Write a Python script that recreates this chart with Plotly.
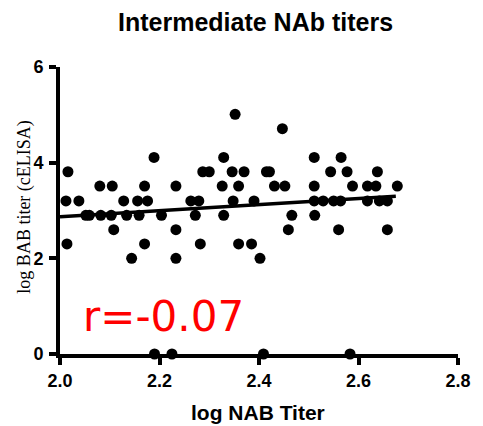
import plotly.graph_objects as go

# Data (log NAB titer vs log BAB titer)
nab_x = [
    2.352,
    2.447,
    2.189, 2.329, 2.511, 2.565,
    2.016, 2.287, 2.300, 2.346, 2.370, 2.415, 2.421, 2.544, 2.577, 2.638,
    2.080, 2.105, 2.170, 2.233, 2.326, 2.359, 2.431, 2.452, 2.511, 2.588, 2.618, 2.635, 2.678,
    2.012, 2.038, 2.128, 2.156, 2.176, 2.263, 2.279, 2.348, 2.390, 2.511, 2.529, 2.550, 2.564, 2.618, 2.642, 2.658,
    2.052, 2.059, 2.082, 2.103, 2.134, 2.159, 2.204, 2.272, 2.329, 2.466, 2.512,
    2.108, 2.233, 2.459, 2.560, 2.658,
    2.014, 2.170, 2.282, 2.359, 2.385,
    2.144, 2.233, 2.402,
    2.190, 2.225, 2.409, 2.583,
]
bab_y = (
    [5.01] * 1 + [4.71] * 1 + [4.11] * 4 + [3.81] * 10 + [3.51] * 13 +
    [3.20] * 16 + [2.90] * 11 + [2.60] * 5 + [2.30] * 5 + [2.00] * 3 + [0.0] * 4
)

fit_x = [2.0, 2.675]
fit_y = [2.87, 3.30]

x_ticks = [2.0, 2.2, 2.4, 2.6, 2.8]
x_tick_labels = ["2.0", "2.2", "2.4", "2.6", "2.8"]
y_ticks = [0, 2, 4, 6]
y_tick_labels = ["0", "2", "4", "6"]

fig = go.Figure()
fig.add_trace(go.Scatter(
    x=fit_x, y=fit_y, mode="lines",
    line=dict(color="black", width=3.5),
    showlegend=False, hoverinfo="skip",
))
fig.add_trace(go.Scatter(
    x=nab_x, y=bab_y, mode="markers",
    marker=dict(color="black", size=11, line=dict(width=0)),
    cliponaxis=False, showlegend=False,
))

axis_font = dict(family="Liberation Sans, Arial, sans-serif", size=18, color="black")

fig.update_layout(
    width=483, height=426,
    margin=dict(l=60, r=16, t=67, b=72),
    paper_bgcolor="white", plot_bgcolor="white",
    xaxis=dict(
        range=[2.0, 2.8], tickvals=x_ticks,
        ticktext=["<b>%s</b>" % t for t in x_tick_labels],
        showline=True, linecolor="black", linewidth=4,
        ticks="outside", ticklen=7, tickwidth=4, tickcolor="black",
        showgrid=False, zeroline=False, tickfont=axis_font, layer="below traces",
    ),
    yaxis=dict(
        range=[0, 6], tickvals=y_ticks,
        ticktext=["<b>%s</b>" % t for t in y_tick_labels],
        showline=True, linecolor="black", linewidth=4,
        ticks="outside", ticklen=7, tickwidth=4, tickcolor="black",
        showgrid=False, zeroline=False, tickfont=axis_font, ticklabelstandoff=2,
        layer="below traces",
    ),
    annotations=[
        dict(text="<b>Intermediate NAb titers</b>", xref="paper", yref="paper",
             x=0.49, y=1.0, yshift=45, xanchor="center", yanchor="middle", showarrow=False,
             font=dict(family="Liberation Sans, Arial, sans-serif", size=25, color="black")),
        dict(text="<b>log NAB Titer</b>", xref="paper", yref="paper",
             x=0.497, y=0, yshift=-58, xanchor="center", yanchor="middle", showarrow=False,
             font=dict(family="Liberation Sans, Arial, sans-serif", size=21, color="black")),
        dict(text="log BAB titer (cELISA)", xref="paper", yref="paper",
             x=0, xshift=-35, y=0.51, xanchor="center", yanchor="middle", showarrow=False,
             textangle=-90,
             font=dict(family="Liberation Serif, Times New Roman, serif", size=18, color="black")),
        dict(text="r=-0.07", xref="paper", yref="paper",
             x=0.26, y=0.13, xanchor="center", yanchor="middle", showarrow=False,
             font=dict(family="DejaVu Sans, Verdana, sans-serif", size=42, color="red")),
    ],
)

fig.write_html("out.html")
